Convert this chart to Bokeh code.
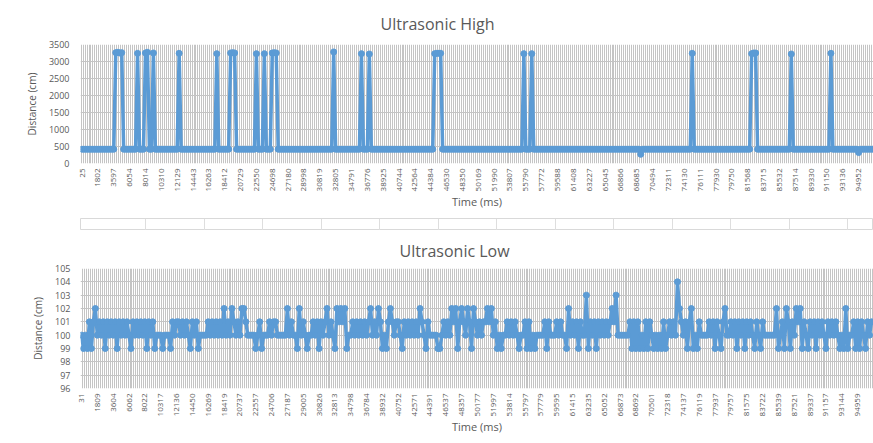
import math
from bokeh.plotting import figure
from bokeh.models import FixedTicker, ColumnDataSource, Range1d, Grid
from bokeh.layouts import column
from bokeh.embed import file_html
from bokeh.resources import INLINE

# ---------------- data ----------------
high_time_labels = ["25", "1802", "3597", "6054", "8014", "10310", "12129", "14443", "16263", "18412",
                    "20729", "22550", "24698", "27180", "28998", "30819", "32805", "34791", "36776", "38925",
                    "40744", "42564", "44384", "46530", "48350", "50169", "51990", "53807", "55790", "57772",
                    "59588", "61408", "63227", "65045", "66866", "68685", "70494", "72311", "74130", "76111",
                    "77930", "79750", "81568", "83715", "85532", "87514", "89330", "91150", "93136", "94952"]

low_time_labels = ["31", "1809", "3604", "6062", "8022", "10317", "12136", "14450", "16269", "18419",
                   "20737", "22557", "24706", "27187", "29005", "30826", "32813", "34798", "36784", "38932",
                   "40752", "42571", "44391", "46537", "48357", "50177", "51997", "53814", "55797", "57779",
                   "59595", "61415", "63235", "65052", "66873", "68692", "70501", "72318", "74137", "76119",
                   "77937", "79757", "81575", "83722", "85539", "87521", "89337", "91157", "93144", "94959"]

high_distance = [
    420, 420, 420, 420, 420, 420, 420, 420, 420, 420, 420, 420, 420, 420, 420, 420, 420, 3260, 3270, 3250,
    3260, 420, 420, 420, 420, 420, 420, 420, 3240, 420, 420, 420, 3250, 3270, 420, 420, 3250, 420, 420, 420,
    420, 420, 420, 420, 420, 420, 420, 420, 420, 3240, 420, 420, 420, 420, 420, 420, 420, 420, 420, 420,
    420, 420, 420, 420, 420, 420, 420, 420, 3230, 420, 420, 420, 420, 420, 420, 3250, 3260, 3250, 420, 420,
    420, 420, 420, 420, 420, 420, 420, 420, 3230, 420, 420, 420, 3230, 420, 420, 420, 3250, 3260, 3250, 420,
    420, 420, 420, 420, 420, 420, 420, 420, 420, 420, 420, 420, 420, 420, 420, 420, 420, 420, 420, 420,
    420, 420, 420, 420, 420, 420, 420, 3280, 420, 420, 420, 420, 420, 420, 420, 420, 420, 420, 420, 420,
    420, 3230, 420, 420, 420, 3220, 420, 420, 420, 420, 420, 420, 420, 420, 420, 420, 420, 420, 420, 420,
    420, 420, 420, 420, 420, 420, 420, 420, 420, 420, 420, 420, 420, 420, 420, 420, 420, 420, 3230, 3240,
    3240, 3240, 420, 420, 420, 420, 420, 420, 420, 420, 420, 420, 420, 420, 420, 420, 420, 420, 420, 420,
    420, 420, 420, 420, 420, 420, 420, 420, 420, 420, 420, 420, 420, 420, 420, 420, 420, 420, 420, 420,
    420, 420, 420, 3230, 420, 420, 420, 3230, 420, 420, 420, 420, 420, 420, 420, 420, 420, 420, 420, 420,
    420, 420, 420, 420, 420, 420, 420, 420, 420, 420, 420, 420, 420, 420, 420, 420, 420, 420, 420, 420,
    420, 420, 420, 420, 420, 420, 420, 420, 420, 420, 420, 420, 420, 420, 420, 420, 420, 420, 420, 420,
    420, 420, 270, 420, 420, 420, 420, 420, 420, 420, 420, 420, 420, 420, 420, 420, 420, 420, 420, 420,
    420, 420, 420, 420, 420, 420, 420, 420, 3240, 420, 420, 420, 420, 420, 420, 420, 420, 420, 420, 420,
    420, 420, 420, 420, 420, 420, 420, 420, 420, 420, 420, 420, 420, 420, 420, 420, 420, 420, 3230, 3250,
    3250, 420, 420, 420, 420, 420, 420, 420, 420, 420, 420, 420, 420, 420, 420, 420, 420, 420, 3220, 420,
    420, 420, 420, 420, 420, 420, 420, 420, 420, 420, 420, 420, 420, 420, 420, 420, 420, 420, 3240, 420,
    420, 420, 420, 420, 420, 420, 420, 420, 420, 420, 420, 420, 320, 420, 420, 420, 420, 420, 420, 420,
]

low_distance = [
    100, 99, 100, 99, 101, 99, 101, 102, 100, 101, 100, 101, 99, 101, 100, 101, 100, 101, 99, 101,
    100, 101, 100, 101, 100, 99, 101, 100, 101, 100, 101, 100, 101, 99, 101, 100, 101, 99, 100, 100,
    100, 99, 100, 100, 100, 99, 101, 100, 101, 101, 100, 101, 100, 101, 100, 99, 101, 100, 101, 99,
    100, 100, 100, 100, 101, 100, 101, 100, 101, 100, 101, 100, 102, 100, 101, 100, 102, 101, 100, 101,
    100, 102, 102, 101, 100, 100, 100, 100, 99, 100, 101, 99, 100, 100, 100, 101, 100, 101, 101, 100,
    100, 100, 100, 100, 102, 100, 101, 100, 100, 99, 102, 100, 101, 100, 99, 100, 100, 101, 100, 101,
    99, 101, 100, 101, 102, 100, 101, 100, 99, 102, 101, 102, 101, 102, 99, 100, 100, 101, 100, 101,
    100, 101, 100, 101, 100, 101, 102, 100, 101, 100, 102, 101, 99, 100, 99, 101, 102, 101, 100, 101,
    101, 100, 99, 101, 100, 101, 100, 101, 100, 101, 100, 102, 101, 100, 99, 101, 100, 100, 100, 100,
    99, 99, 100, 101, 100, 101, 100, 102, 101, 102, 99, 101, 102, 101, 100, 102, 101, 99, 102, 101,
    100, 101, 100, 101, 101, 102, 101, 102, 100, 101, 99, 100, 99, 100, 100, 101, 100, 101, 100, 101,
    100, 99, 100, 100, 101, 99, 101, 99, 100, 99, 100, 100, 100, 100, 101, 99, 101, 100, 100, 100,
    101, 100, 101, 100, 100, 99, 102, 100, 101, 100, 101, 99, 101, 100, 100, 103, 99, 101, 100, 101,
    99, 101, 100, 101, 100, 101, 100, 101, 102, 101, 103, 100, 100, 100, 100, 100, 100, 101, 99, 101,
    99, 101, 99, 100, 99, 101, 99, 101, 100, 99, 100, 99, 100, 99, 101, 99, 100, 101, 100, 101,
    100, 104, 102, 101, 100, 101, 99, 101, 102, 99, 100, 99, 101, 100, 100, 100, 100, 101, 100, 101,
    99, 101, 100, 99, 101, 102, 100, 100, 101, 100, 101, 99, 101, 100, 101, 99, 101, 100, 101, 100,
    99, 101, 100, 99, 101, 100, 100, 100, 100, 100, 100, 102, 99, 100, 101, 99, 102, 101, 99, 101,
    100, 102, 101, 102, 99, 101, 100, 99, 101, 100, 101, 99, 101, 100, 101, 100, 99, 101, 100, 101,
    100, 101, 100, 99, 100, 99, 102, 99, 100, 100, 101, 99, 101, 99, 101, 100, 99, 101, 100, 101,
]

# ---------------- styling ----------------
LABEL_STEP = 8
BLUE = "#5b9bd5"
TEXT = "#595959"
GRID = "#c4c4c4"
FONT = "Open Sans"
PAGE_W = 873


def make_chart(title, values, labels, y_start, y_end, y_step, height, min_left,
               top_border, bottom_border, x_start, x_end, title_offset, title_standoff, y_standoff):
    n = len(values)
    src = ColumnDataSource(dict(x=list(range(n)), y=values))
    p = figure(width=PAGE_W, height=height, output_backend="svg", toolbar_location=None,
               x_range=Range1d(x_start, x_end), y_range=Range1d(y_start, y_end),
               min_border_left=min_left, min_border_right=0,
               min_border_top=top_border, min_border_bottom=bottom_border)
    p.outline_line_color = None
    p.background_fill_color = "white"
    p.border_fill_color = "white"

    p.title.text = title
    p.title.align = "left"
    p.title.offset = title_offset
    p.title.standoff = title_standoff
    p.title.text_font = FONT
    p.title.text_font_size = "16px"
    p.title.text_font_style = "normal"
    p.title.text_color = TEXT

    # grids
    p.xgrid.ticker = FixedTicker(ticks=[i - 0.5 for i in range(n + 1)])
    p.xgrid.grid_line_color = GRID
    p.xgrid.grid_line_width = 1
    yt = []
    v = y_start
    while v <= y_end + 1e-9:
        yt.append(v)
        v += y_step
    p.ygrid.ticker = FixedTicker(ticks=yt)
    p.ygrid.grid_line_color = GRID

    # x axis
    xa = p.xaxis[0]
    xa.ticker = FixedTicker(ticks=[i * LABEL_STEP for i in range(len(labels))])
    xa.major_label_overrides = {i * LABEL_STEP: lab for i, lab in enumerate(labels)}
    xa.major_label_orientation = math.pi / 2
    xa.axis_line_color = None
    xa.major_tick_line_color = None
    xa.minor_tick_line_color = None
    xa.major_tick_in = 0
    xa.major_tick_out = 0
    xa.major_label_standoff = 5
    xa.major_label_text_font = FONT
    xa.major_label_text_font_size = "8px"
    xa.major_label_text_color = TEXT
    xa.axis_label = "Time (ms)"
    xa.axis_label_text_font = FONT
    xa.axis_label_text_font_size = "11px"
    xa.axis_label_text_font_style = "normal"
    xa.axis_label_text_color = TEXT
    xa.axis_label_standoff = 0

    # y axis
    ya = p.yaxis[0]
    ya.ticker = FixedTicker(ticks=yt)
    ya.axis_line_color = None
    ya.major_tick_line_color = None
    ya.minor_tick_line_color = None
    ya.major_tick_in = 0
    ya.major_tick_out = 0
    ya.major_label_standoff = y_standoff
    ya.major_label_text_font = FONT
    ya.major_label_text_font_size = "9px"
    ya.major_label_text_color = TEXT
    ya.axis_label = "Distance (cm)"
    ya.axis_label_text_font = FONT
    ya.axis_label_text_font_size = "10px"
    ya.axis_label_text_font_style = "normal"
    ya.axis_label_text_color = TEXT
    ya.axis_label_standoff = 7

    p.line("x", "y", source=src, line_color=BLUE, line_width=3.5)
    p.scatter("x", "y", source=src, size=6, fill_color=BLUE, line_color=BLUE)
    return p


top = make_chart("Ultrasonic High", high_distance, high_time_labels, 0, 3500, 500,
                 height=218, min_left=80, top_border=42, bottom_border=55,
                 x_start=-0.8, x_end=399.5, title_offset=300, title_standoff=20, y_standoff=11)

# spreadsheet cell strip between the two charts
cell_edges = [72 + 64.4 * k for k in range(13)]
strip = figure(width=PAGE_W, height=12, output_backend="svg", toolbar_location=None,
               x_range=Range1d(0, PAGE_W), y_range=Range1d(0, 1),
               x_axis_type=None, y_axis_type=None,
               min_border_left=0, min_border_right=0, min_border_top=0, min_border_bottom=0)
strip.outline_line_color = "#d9d9d9"
strip.add_layout(Grid(dimension=0, ticker=FixedTicker(ticks=cell_edges), grid_line_color="#dedede"))

bottom = make_chart("Ultrasonic Low", low_distance, low_time_labels, 96, 105, 1,
                    height=213, min_left=72, top_border=36, bottom_border=55,
                    x_start=-0.5, x_end=400.0, title_offset=319, title_standoff=14, y_standoff=10)

layout = column(top, strip, bottom)

open("out.html", "w").write(file_html(layout, INLINE))
